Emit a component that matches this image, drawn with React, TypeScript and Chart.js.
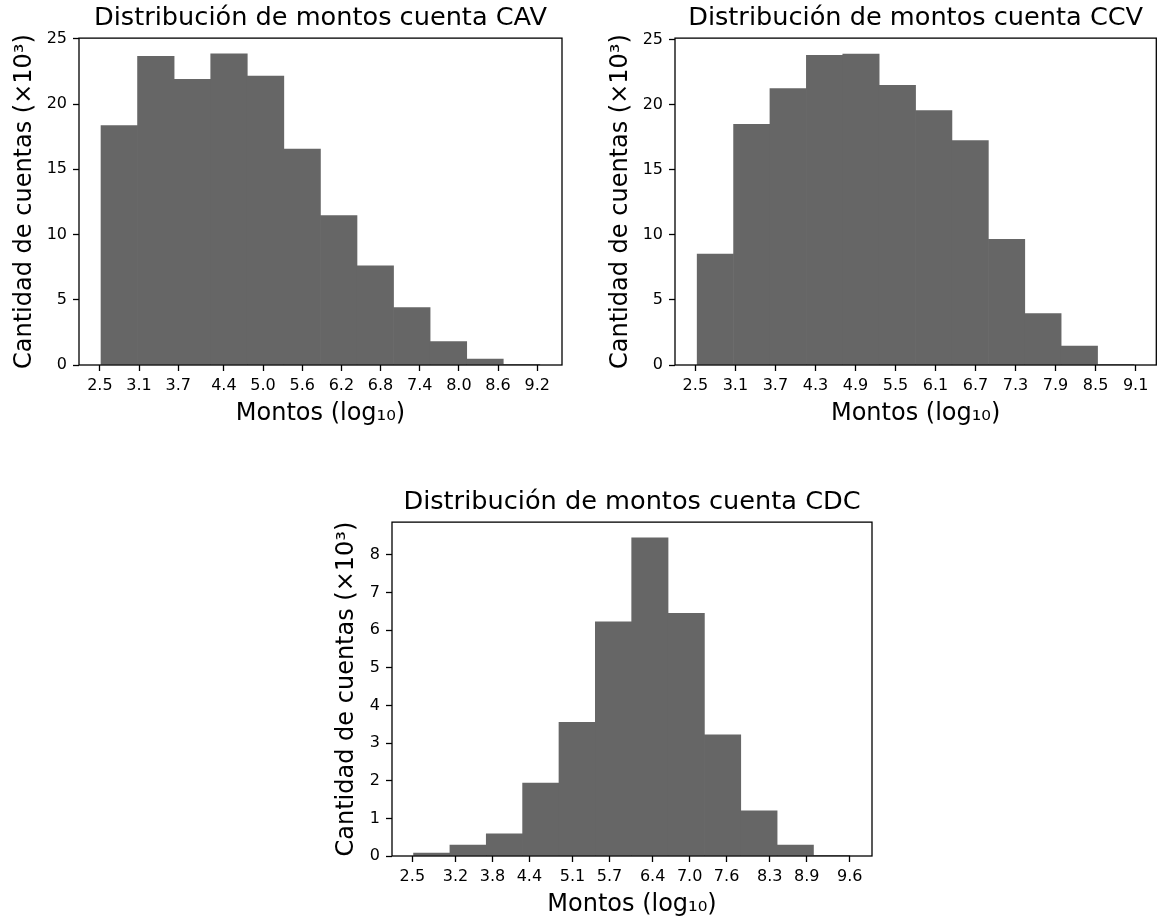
import React, { useEffect, useRef } from "react";
import { Chart, registerables } from "chart.js";

Chart.register(...registerables);

const FONT = "'DejaVu Sans', 'Liberation Sans', sans-serif";
const BAR_COLOR = "#666666";

// ---------- CAV ----------
const cavTitle = "Distribución de montos cuenta CAV";
const cavBinStarts = [2.517, 3.077, 3.638, 4.198, 4.758, 5.319, 5.879, 6.439, 6.999, 7.56, 8.12, 8.68];
const cavBinWidth = 0.5603;
const cavCounts = [18.35, 23.65, 21.9, 23.85, 22.15, 16.55, 11.45, 7.6, 4.4, 1.8, 0.45, 0.02];
const cavTicks = [2.5, 3.1, 3.7, 4.4, 5.0, 5.6, 6.2, 6.8, 7.4, 8.0, 8.6, 9.2];
const cavTickLabels = ["2.5", "3.1", "3.7", "4.4", "5.0", "5.6", "6.2", "6.8", "7.4", "8.0", "8.6", "9.2"];

// ---------- CCV ----------
const ccvTitle = "Distribución de montos cuenta CCV";
const ccvBinStarts = [2.527, 3.073, 3.618, 4.164, 4.71, 5.256, 5.801, 6.347, 6.893, 7.438, 7.984, 8.53];
const ccvBinWidth = 0.5457;
const ccvCounts = [8.52, 18.5, 21.25, 23.8, 23.9, 21.5, 19.55, 17.25, 9.65, 3.95, 1.45, 0.06];
const ccvTicks = [2.5, 3.1, 3.7, 4.3, 4.9, 5.5, 6.1, 6.7, 7.3, 7.9, 8.5, 9.1];
const ccvTickLabels = ["2.5", "3.1", "3.7", "4.3", "4.9", "5.5", "6.1", "6.7", "7.3", "7.9", "8.5", "9.1"];

// ---------- CDC ----------
const cdcTitle = "Distribución de montos cuenta CDC";
const cdcBinStarts = [2.52, 3.11, 3.7, 4.29, 4.88, 5.47, 6.06, 6.65, 7.24, 7.83, 8.42, 9.01];
const cdcBinWidth = 0.59;
const cdcCounts = [0.08, 0.29, 0.59, 1.94, 3.55, 6.22, 8.45, 6.45, 3.22, 1.2, 0.29, 0.01];
const cdcTicks = [2.5, 3.2, 3.8, 4.4, 5.1, 5.7, 6.4, 7.0, 7.6, 8.3, 8.9, 9.6];
const cdcTickLabels = ["2.5", "3.2", "3.8", "4.4", "5.1", "5.7", "6.4", "7.0", "7.6", "8.3", "8.9", "9.6"];

const xAxisTitle = "Montos (log₁₀)";
const yAxisTitle = "Cantidad de cuentas (×10³)";

type Panel = {
  title: string;
  binStarts: number[];
  binWidth: number;
  counts: number[];
  ticks: number[];
  tickLabels: string[];
  xMin: number;
  xMax: number;
  yMax: number;
  yStep: number;
  left: number;
  top: number;
  width: number;
  height: number;
  yAxisWidth: number;
  padRight: number;
  yTitlePad: number;
};

const panels: Panel[] = [
  {
    title: cavTitle, binStarts: cavBinStarts, binWidth: cavBinWidth, counts: cavCounts,
    ticks: cavTicks, tickLabels: cavTickLabels,
    xMin: 2.18, xMax: 9.58, yMax: 25.05, yStep: 5,
    left: 0, top: 0, width: 580, height: 440, yAxisWidth: 79, padRight: 18, yTitlePad: 10.6,
  },
  {
    title: ccvTitle, binStarts: ccvBinStarts, binWidth: ccvBinWidth, counts: ccvCounts,
    ticks: ccvTicks, tickLabels: ccvTickLabels,
    xMin: 2.195, xMax: 9.41, yMax: 25.12, yStep: 5,
    left: 580, top: 0, width: 584, height: 440, yAxisWidth: 95, padRight: 7.7, yTitlePad: 26.6,
  },
  {
    title: cdcTitle, binStarts: cdcBinStarts, binWidth: cdcBinWidth, counts: cdcCounts,
    ticks: cdcTicks, tickLabels: cdcTickLabels,
    xMin: 2.17, xMax: 9.96, yMax: 8.87, yStep: 1,
    left: 300, top: 484, width: 580, height: 447, yAxisWidth: 92, padRight: 8, yTitlePad: 32.3,
  },
];

const framePlugin = {
  id: "axesFrame",
  afterDatasetsDraw(chart: any) {
    const { ctx, chartArea } = chart;
    const { left, top, right, bottom } = chartArea;
    ctx.save();
    ctx.strokeStyle = "#000";
    ctx.lineWidth = 1.3;
    ctx.strokeRect(left, top, right - left, bottom - top);
    ctx.restore();
  },
};

function buildConfig(p: Panel): any {
  const data = p.binStarts.map((s, i) => ({ x: s + p.binWidth / 2, y: p.counts[i] }));
  const tickFont = { family: FONT, size: 16 };
  const labelFont = { family: FONT, size: 24, lineHeight: 1.2 };
  const gridOpts = {
    display: true,
    drawOnChartArea: false,
    drawTicks: true,
    tickLength: 6,
    tickWidth: 1.3,
    tickColor: "#000",
    offset: false,
  };
  return {
    type: "bar",
    data: {
      datasets: [
        {
          data,
          backgroundColor: BAR_COLOR,
          borderWidth: 0,
          barPercentage: 1,
          categoryPercentage: 1,
        },
      ],
    },
    options: {
      responsive: false,
      animation: false,
      events: [],
      layout: { padding: { left: 0, right: p.padRight, top: 0, bottom: 0 } },
      plugins: {
        legend: { display: false },
        tooltip: { enabled: false },
        title: {
          display: true,
          text: p.title,
          fullSize: false,
          color: "#000",
          font: { family: FONT, size: 25.6, weight: "normal", lineHeight: 1.2 },
          padding: { top: 2.9, bottom: 4.5 },
        },
      },
      scales: {
        x: {
          type: "linear",
          min: p.xMin,
          max: p.xMax,
          offset: false,
          grid: gridOpts,
          border: { display: false },
          afterBuildTicks: (scale: any) => {
            scale.ticks = p.ticks.map((v) => ({ value: v }));
          },
          afterFit: (scale: any) => {
            scale.height = 75;
          },
          ticks: {
            autoSkip: false,
            maxRotation: 0,
            minRotation: 0,
            padding: 5.5,
            color: "#000",
            font: tickFont,
            callback: (_v: any, i: number) => p.tickLabels[i],
          },
          title: {
            display: true,
            text: xAxisTitle,
            color: "#000",
            font: labelFont,
            padding: { top: 0, bottom: 12.1 },
          },
        },
        y: {
          type: "linear",
          min: 0,
          max: p.yMax,
          grid: gridOpts,
          border: { display: false },
          afterFit: (scale: any) => {
            scale.width = p.yAxisWidth;
          },
          ticks: {
            stepSize: p.yStep,
            includeBounds: false,
            padding: 6,
            color: "#000",
            font: tickFont,
          },
          title: {
            display: true,
            text: yAxisTitle,
            color: "#000",
            font: labelFont,
            padding: { top: p.yTitlePad, bottom: 0 },
          },
        },
      },
    },
    plugins: [framePlugin],
  };
}

function HistPanel({ p }: { p: Panel }) {
  const ref = useRef<HTMLCanvasElement | null>(null);
  useEffect(() => {
    if (!ref.current) return;
    const chart = new Chart(ref.current, buildConfig(p));
    return () => chart.destroy();
  }, [p]);
  return (
    <canvas
      ref={ref}
      width={p.width}
      height={p.height}
      style={{
        position: "absolute",
        left: p.left,
        top: p.top,
        width: p.width,
        height: p.height,
      }}
    />
  );
}

export default function App() {
  return (
    <div
      style={{
        position: "fixed",
        left: 0,
        top: 0,
        width: 1164,
        height: 921,
        overflow: "hidden",
        background: "#ffffff",
      }}
    >
      {panels.map((p, i) => (
        <HistPanel key={i} p={p} />
      ))}
    </div>
  );
}
